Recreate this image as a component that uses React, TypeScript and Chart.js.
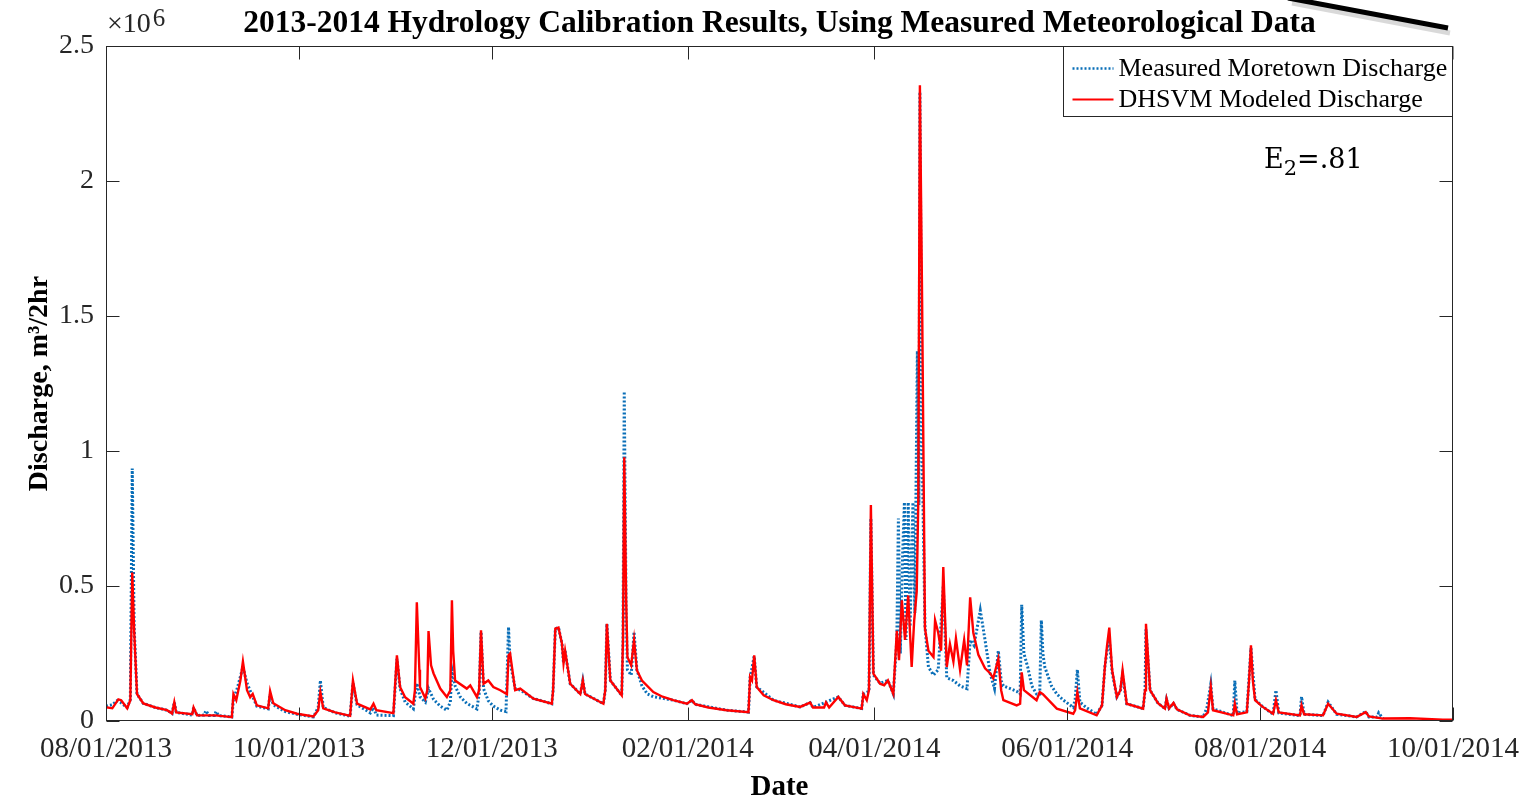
import React, { useEffect, useRef } from "react";
import { Chart, registerables } from "chart.js";

Chart.register(...registerables);

// x values: days since 08/01/2013; y values: discharge in 10^6 m^3 / 2hr
const tickDays = [0, 61, 122, 184, 243, 304, 365, 426];
const tickLabels = [
  "08/01/2013", "10/01/2013", "12/01/2013", "02/01/2014",
  "04/01/2014", "06/01/2014", "08/01/2014", "10/01/2014",
];
const yTickValues = [0, 0.5, 1, 1.5, 2, 2.5];

const measuredLabel = "Measured Moretown Discharge";
const modeledLabel = "DHSVM Modeled Discharge";
const chartTitle = "2013-2014 Hydrology Calibration Results, Using Measured Meteorological Data";
const xTitle = "Date";
const yTitle = "Discharge, m\u00B3/2hr";

const modeled: [number, number][] = [
  [0, 0.051], [2.0, 0.047], [3.9, 0.08], [4.8, 0.077], [6.7, 0.047], [7.7, 0.077], [8.3, 0.55], [8.9, 0.336],
  [9.8, 0.1], [11.8, 0.065], [15.6, 0.05], [19.3, 0.04], [20.9, 0.028], [21.6, 0.07], [22.2, 0.032], [27.3, 0.025],
  [27.7, 0.05], [28.8, 0.021], [34.6, 0.021], [37.7, 0.017], [39.8, 0.014], [40.3, 0.1], [41.2, 0.077], [42.5, 0.15],
  [43.3, 0.22], [44.6, 0.114], [45.6, 0.088], [46.4, 0.1], [47.7, 0.058], [51.3, 0.047], [51.9, 0.111], [52.9, 0.066],
  [56.7, 0.04], [60.4, 0.027], [65.6, 0.017], [67.1, 0.04], [67.8, 0.107], [68.7, 0.047], [72.5, 0.032], [77.2, 0.019],
  [78.1, 0.15], [79.4, 0.064], [83.6, 0.043], [84.6, 0.064], [85.5, 0.04], [90.9, 0.029], [92.0, 0.243], [93.0, 0.126],
  [94.6, 0.088], [97.2, 0.064], [97.7, 0.114], [98.3, 0.44], [99.1, 0.19], [99.3, 0.126], [101.0, 0.084], [101.6, 0.114],
  [102.0, 0.333], [102.8, 0.206], [103.6, 0.176], [105.7, 0.12], [107.8, 0.089], [108.9, 0.114], [109.4, 0.447], [109.8, 0.26],
  [110.4, 0.15], [114.1, 0.12], [115.2, 0.132], [117.3, 0.089], [118.0, 0.114], [118.6, 0.336], [119.4, 0.138], [120.9, 0.15],
  [122.5, 0.126], [124.7, 0.114], [126.8, 0.099], [127.3, 0.243], [127.8, 0.25], [129.4, 0.114], [131.0, 0.12], [135.2, 0.083],
  [141.0, 0.064], [141.4, 0.114], [142.1, 0.342], [143.1, 0.346], [144.2, 0.287], [144.7, 0.214], [145.2, 0.26], [146.8, 0.138],
  [150.0, 0.1], [150.8, 0.15], [151.5, 0.1], [157.3, 0.064], [157.9, 0.114], [158.4, 0.36], [159.5, 0.15], [163.1, 0.095],
  [163.5, 0.3], [163.9, 0.977], [164.5, 0.45], [164.9, 0.237], [166.1, 0.206], [167.0, 0.3], [167.9, 0.188], [169.5, 0.15],
  [173.1, 0.107], [176.0, 0.09], [179.4, 0.077], [183.7, 0.064], [185.3, 0.077], [186.3, 0.062], [190.5, 0.05], [196.3, 0.04],
  [203.2, 0.033], [203.7, 0.163], [204.3, 0.15], [205.0, 0.243], [205.8, 0.126], [208.0, 0.095], [211.1, 0.077], [215.0, 0.062],
  [219.5, 0.052], [222.7, 0.068], [223.6, 0.05], [227.1, 0.05],
  [227.7, 0.069], [228.7, 0.05], [231.6, 0.089], [233.7, 0.058], [239.0, 0.046], [239.5, 0.1], [240.6, 0.077], [241.3, 0.114],
  [241.9, 0.8], [242.7, 0.175], [244.8, 0.138], [246.1, 0.132], [247.3, 0.15], [249.0, 0.1], [250.1, 0.334], [250.8, 0.225],
  [251.7, 0.447], [252.7, 0.3], [253.7, 0.465], [254.8, 0.2], [255.6, 0.373], [256.4, 0.48], [256.9, 0.82], [257.4, 2.355],
  [258.1, 1.56], [259.0, 0.344], [260.1, 0.26], [261.7, 0.237], [262.2, 0.373], [263.2, 0.327], [264.1, 0.26], [264.8, 0.57],
  [265.9, 0.2], [266.9, 0.285], [268.0, 0.22], [268.8, 0.306], [270.1, 0.19], [271.4, 0.3], [272.3, 0.206], [273.3, 0.458],
  [274.3, 0.327], [275.9, 0.245], [278.0, 0.195], [279.6, 0.177], [280.6, 0.158], [282.2, 0.23], [283.1, 0.114], [283.8, 0.077],
  [288.0, 0.058], [289.1, 0.064], [289.6, 0.18], [290.3, 0.114], [294.3, 0.077], [295.3, 0.107], [296.3, 0.099], [300.7, 0.046],
  [305.9, 0.027], [306.5, 0.04], [307.2, 0.107], [308.0, 0.047], [313.3, 0.021], [315.0, 0.058], [315.9, 0.2], [316.6, 0.28],
  [317.3, 0.346], [318.2, 0.188], [319.7, 0.089], [320.8, 0.114], [321.5, 0.188], [322.8, 0.064], [328.0, 0.046], [328.6, 0.114],
  [328.9, 0.36], [330.2, 0.114], [332.7, 0.066], [334.9, 0.046], [335.4, 0.083], [336.2, 0.047], [337.6, 0.067], [338.7, 0.043],
  [342.8, 0.021], [347.0, 0.015], [348.5, 0.032], [349.4, 0.126], [350.1, 0.04], [356.5, 0.021], [357.0, 0.064], [357.7, 0.025],
  [360.8, 0.032], [361.5, 0.15], [362.1, 0.28], [362.7, 0.15], [363.4, 0.077], [365.6, 0.054], [369.1, 0.027], [370.0, 0.077],
  [370.9, 0.032], [377.6, 0.021], [378.1, 0.058], [378.9, 0.025], [384.9, 0.021], [386.5, 0.064], [389.2, 0.027], [395.5, 0.015],
  [398.4, 0.033], [399.4, 0.017], [403.9, 0.009], [412.4, 0.01], [422.8, 0.005], [426, 0.005],
];

const measured: [number, number][] = [
  [0, 0.055], [2.0, 0.06], [3.5, 0.075], [4.5, 0.07], [6.7, 0.05], [7.7, 0.08], [8.3, 0.935], [8.9, 0.35],
  [9.8, 0.1], [11.8, 0.065], [15.6, 0.05], [19.3, 0.04], [20.9, 0.028], [21.6, 0.07], [22.2, 0.032], [27.3, 0.022],
  [27.7, 0.05], [28.8, 0.02], [31.0, 0.022], [31.6, 0.038], [32.6, 0.02], [34.3, 0.02], [34.8, 0.035], [35.6, 0.02],
  [39.8, 0.015], [40.3, 0.08], [41.5, 0.12], [43.3, 0.2], [44.6, 0.14], [46.4, 0.09], [47.7, 0.055], [51.3, 0.045],
  [51.9, 0.1], [52.9, 0.06], [56.7, 0.035], [60.4, 0.025], [65.6, 0.015], [67.1, 0.05], [67.8, 0.15], [68.7, 0.05],
  [72.5, 0.03], [77.2, 0.018], [78.1, 0.14], [79.4, 0.06], [83.6, 0.03], [84.6, 0.05], [85.5, 0.022], [90.9, 0.02],
  [92.0, 0.23], [93.0, 0.12], [94.6, 0.07], [97.2, 0.045], [98.3, 0.14], [99.3, 0.09], [101.0, 0.07], [102.0, 0.12],
  [103.6, 0.08], [105.7, 0.055], [107.8, 0.04], [108.9, 0.07], [109.4, 0.19], [110.4, 0.13], [112.0, 0.09], [114.1, 0.065],
  [117.3, 0.045], [118.0, 0.1], [118.6, 0.33], [119.4, 0.12], [120.9, 0.075], [122.5, 0.055], [124.7, 0.04], [126.5, 0.035],
  [127.3, 0.348], [127.8, 0.22], [129.4, 0.12], [131.0, 0.115], [135.2, 0.083], [141.0, 0.064], [141.4, 0.114], [142.1, 0.342],
  [143.1, 0.346], [144.2, 0.287], [144.7, 0.214], [145.2, 0.26], [146.8, 0.138], [150.0, 0.1], [150.8, 0.15], [151.5, 0.1],
  [157.3, 0.064], [157.9, 0.114], [158.4, 0.36], [159.5, 0.15], [163.1, 0.095], [163.5, 0.3], [163.9, 1.22], [164.5, 0.4],
  [164.9, 0.19], [166.1, 0.17], [167.0, 0.33], [167.9, 0.19], [169.5, 0.13], [171.2, 0.1], [173.1, 0.09], [179.4, 0.077],
  [183.7, 0.064], [185.3, 0.077], [186.3, 0.062], [196.3, 0.04], [203.2, 0.033], [203.7, 0.16], [205.0, 0.24], [205.8, 0.126],
  [211.1, 0.077], [219.5, 0.052], [222.7, 0.068], [223.6, 0.05], [231.6, 0.089], [233.7, 0.058], [239.0, 0.046], [239.5, 0.1],
  [241.3, 0.11], [241.9, 0.75], [242.7, 0.17], [244.8, 0.14], [247.3, 0.15], [249.0, 0.1], [250.1, 0.3], [250.6, 0.75],
  [251.2, 0.25], [251.9, 0.6], [252.5, 0.81], [253.0, 0.3], [253.7, 0.81], [254.3, 0.35], [255.2, 0.81], [255.8, 0.4],
  [256.6, 1.37], [257.1, 0.8], [257.4, 2.33], [258.1, 1.0], [259.0, 0.35], [260.1, 0.2], [261.7, 0.17], [263.2, 0.19],
  [264.8, 0.5], [265.9, 0.16], [268.0, 0.15], [270.1, 0.13], [272.3, 0.12], [273.3, 0.3], [274.5, 0.28], [276.5, 0.41],
  [278.0, 0.3], [279.6, 0.177], [281.0, 0.12], [282.2, 0.26], [283.1, 0.15], [283.8, 0.13], [286.0, 0.12], [288.0, 0.11],
  [289.1, 0.1], [289.6, 0.43], [290.3, 0.25], [291.5, 0.2], [292.8, 0.13], [294.3, 0.1], [295.3, 0.1], [295.8, 0.373],
  [296.3, 0.25], [296.9, 0.2], [299.0, 0.13], [300.7, 0.1], [302.5, 0.08], [305.9, 0.05], [306.5, 0.08], [307.2, 0.19],
  [308.0, 0.07], [310.0, 0.05], [313.3, 0.025], [315.0, 0.058], [315.9, 0.2], [316.6, 0.26], [317.3, 0.3], [318.2, 0.18],
  [319.7, 0.089], [320.8, 0.11], [321.5, 0.17], [322.8, 0.064], [328.0, 0.046], [328.6, 0.114], [328.9, 0.34], [330.2, 0.114],
  [332.7, 0.066], [334.9, 0.046], [335.4, 0.08], [336.2, 0.047], [337.6, 0.065], [338.7, 0.043], [342.8, 0.021], [347.0, 0.015],
  [348.2, 0.05], [349.4, 0.137], [350.1, 0.045], [356.5, 0.02], [357.0, 0.15], [357.7, 0.03], [360.8, 0.035], [362.1, 0.27],
  [363.4, 0.08], [365.6, 0.055], [369.1, 0.025], [370.0, 0.114], [370.9, 0.03], [377.6, 0.02], [378.1, 0.09], [378.9, 0.025],
  [384.9, 0.02], [386.5, 0.07], [389.2, 0.025], [395.5, 0.015], [398.4, 0.035], [399.4, 0.015], [402.0, 0.015], [402.5, 0.03],
  [403.9, 0.008],
];

const BLUE = "#0a6fb8";
const RED = "#ff0000";
const AXIS = "#262626";
const SERIF = '"Liberation Serif", "Times New Roman", serif';

const decorPlugin = {
  id: "matlabDecor",
  afterDatasetsDraw(chart: any) {
    const { ctx, chartArea: a, scales } = chart;
    const L = Math.round(a.left) + 0.5;
    const T = Math.round(a.top) + 0.5;
    const R = Math.round(a.right) - 0.5;
    const B = Math.round(a.bottom) - 0.5;
    ctx.save();
    ctx.strokeStyle = AXIS;
    ctx.lineWidth = 1;
    ctx.strokeRect(L, T, R - L, B - T);
    const tl = 13;
    ctx.beginPath();
    scales.x.ticks.forEach((t: any) => {
      const px = Math.round(scales.x.getPixelForValue(t.value)) + 0.5;
      ctx.moveTo(px, B);
      ctx.lineTo(px, B - tl);
      ctx.moveTo(px, T);
      ctx.lineTo(px, T + tl);
    });
    scales.y.ticks.forEach((t: any) => {
      const py = Math.round(scales.y.getPixelForValue(t.value)) + 0.5;
      ctx.moveTo(L, py);
      ctx.lineTo(L + tl, py);
      ctx.moveTo(R, py);
      ctx.lineTo(R - tl, py);
    });
    ctx.stroke();
    ctx.restore();
  },
  afterDraw(chart: any) {
    const { ctx, chartArea: a } = chart;
    ctx.save();
    // exponent label
    ctx.fillStyle = AXIS;
    ctx.textBaseline = "alphabetic";
    ctx.textAlign = "left";
    ctx.font = `28px ${SERIF}`;
    const ex = a.left + 1;
    ctx.fillText("\u00D710", ex, 31.5);
    const w10 = ctx.measureText("\u00D710").width;
    ctx.font = `25px ${SERIF}`;
    ctx.fillText("6", ex + w10 + 2, 26);

    // legend
    const lw = 390;
    const lh = 70;
    const lx = Math.round(a.right - lw) + 0.5;
    const ly = Math.round(a.top) + 0.5;
    ctx.fillStyle = "#ffffff";
    ctx.fillRect(lx, ly, lw, lh);
    ctx.strokeStyle = AXIS;
    ctx.lineWidth = 1;
    ctx.strokeRect(lx, ly, lw - 1, lh);
    const r1 = ly + 22;
    const r2 = ly + 53;
    ctx.beginPath();
    ctx.setLineDash([2, 2]);
    ctx.strokeStyle = BLUE;
    ctx.lineWidth = 2.5;
    ctx.moveTo(lx + 9, r1);
    ctx.lineTo(lx + 50, r1);
    ctx.stroke();
    ctx.beginPath();
    ctx.setLineDash([]);
    ctx.strokeStyle = RED;
    ctx.lineWidth = 2;
    ctx.moveTo(lx + 9, r2);
    ctx.lineTo(lx + 50, r2);
    ctx.stroke();
    ctx.fillStyle = "#000";
    ctx.font = `26px ${SERIF}`;
    ctx.textBaseline = "middle";
    ctx.fillText(measuredLabel, lx + 55, r1 + 1);
    ctx.fillText(modeledLabel, lx + 55, r2 + 1);

    // efficiency annotation
    ctx.textBaseline = "alphabetic";
    const mf = '"DejaVu Serif", serif';
    let x = 1264;
    const base = 168;
    ctx.font = `27px ${mf}`;
    ctx.fillText("E", x, base);
    x += ctx.measureText("E").width;
    ctx.font = `21px ${mf}`;
    ctx.fillText("2", x, base + 7);
    x += ctx.measureText("2").width;
    ctx.font = `27px ${mf}`;
    ctx.fillText("=.81", x, base);

    // diagonal pen stroke at the top-right
    ctx.lineCap = "butt";
    ctx.strokeStyle = "rgba(0,0,0,0.15)";
    ctx.lineWidth = 5;
    ctx.beginPath();
    ctx.moveTo(1292, 3);
    ctx.lineTo(1450, 33);
    ctx.stroke();
    ctx.strokeStyle = "#000";
    ctx.lineWidth = 5;
    ctx.beginPath();
    ctx.moveTo(1288, -2);
    ctx.lineTo(1448, 28);
    ctx.stroke();
    ctx.restore();
  },
};

export default function App() {
  const ref = useRef<HTMLCanvasElement | null>(null);
  useEffect(() => {
    const canvas = ref.current;
    if (!canvas) return;
    const chart = new Chart(canvas, {
      type: "line",
      data: {
        datasets: [
          {
            label: measuredLabel,
            data: measured.map(([x, y]) => ({ x, y })),
            borderColor: BLUE,
            backgroundColor: BLUE,
            borderWidth: 3,
            borderDash: [2, 2],
            pointRadius: 0,
            tension: 0,
            order: 2,
          },
          {
            label: modeledLabel,
            data: modeled.map(([x, y]) => ({ x, y })),
            borderColor: RED,
            backgroundColor: RED,
            borderWidth: 2.4,
            pointRadius: 0,
            tension: 0,
            order: 1,
          },
        ],
      },
      options: {
        responsive: false,
        animation: false,
        events: [],
        layout: { padding: { top: 0, left: 0, right: 82, bottom: 0 } },
        plugins: {
          legend: { display: false },
          tooltip: { enabled: false },
          title: {
            display: true,
            text: chartTitle,
            fullSize: false,
            color: "#000",
            font: { family: SERIF, size: 31.5, weight: "bold", lineHeight: 1.2 },
            padding: { top: 4.5, bottom: 3.7 },
          },
        },
        scales: {
          x: {
            type: "linear",
            min: tickDays[0],
            max: tickDays[tickDays.length - 1],
            afterBuildTicks: (s: any) => {
              s.ticks = tickDays.map((v) => ({ value: v }));
            },
            afterFit: (s: any) => {
              s.height = 81;
            },
            ticks: {
              autoSkip: false,
              maxRotation: 0,
              padding: 11,
              color: AXIS,
              font: { family: SERIF, size: 29 },
              callback: (v: any) => {
                const i = tickDays.indexOf(Number(v));
                return i >= 0 ? tickLabels[i] : "";
              },
            },
            grid: { display: false, drawTicks: false },
            border: { display: false },
            title: {
              display: true,
              text: xTitle,
              color: "#000",
              font: { family: SERIF, size: 29, weight: "bold", lineHeight: 1 },
              padding: { top: 0, bottom: 0 },
            },
          },
          y: {
            type: "linear",
            min: yTickValues[0],
            max: yTickValues[yTickValues.length - 1],
            afterBuildTicks: (s: any) => {
              s.ticks = yTickValues.map((v) => ({ value: v }));
            },
            afterFit: (s: any) => {
              s.width = 106;
            },
            ticks: {
              padding: 12,
              color: AXIS,
              font: { family: SERIF, size: 28 },
              callback: (v: any) => String(Math.round(Number(v) * 10) / 10),
            },
            grid: { display: false, drawTicks: false },
            border: { display: false },
            title: {
              display: true,
              text: yTitle,
              color: "#000",
              font: { family: SERIF, size: 28, weight: "bold", lineHeight: 1 },
              padding: { top: 26, bottom: 0 },
            },
          },
        },
      },
      plugins: [decorPlugin],
    } as any);
    return () => chart.destroy();
  }, []);
  return (
    <div style={{ position: "fixed", left: 0, top: 0, width: 1535, height: 802, background: "#fff" }}>
      <canvas ref={ref} width={1535} height={802} style={{ display: "block", width: 1535, height: 802 }} />
    </div>
  );
}
